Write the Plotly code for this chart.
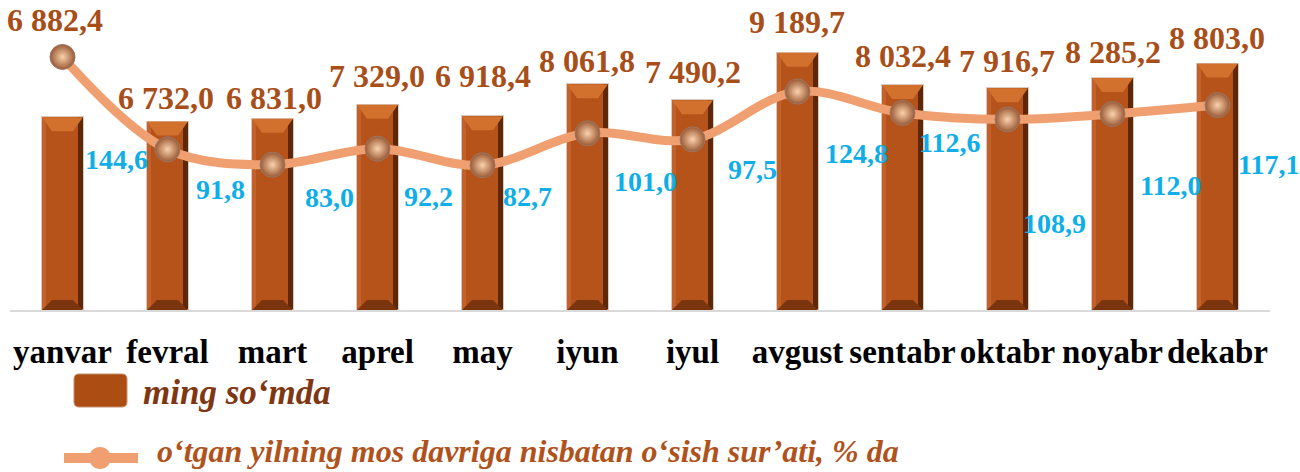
import plotly.graph_objects as go

months = ["yanvar", "fevral", "mart", "aprel", "may", "iyun", "iyul",
          "avgust", "sentabr", "oktabr", "noyabr", "dekabr"]
income = [6882.4, 6732.0, 6831.0, 7329.0, 6918.4, 8061.8, 7490.2,
          9189.7, 8032.4, 7916.7, 8285.2, 8803.0]
growth = [144.6, 91.8, 83.0, 92.2, 82.7, 101.0, 97.5,
          124.8, 112.6, 108.9, 112.0, 117.1]

bar_name = "ming so‘mda"
line_name = "o‘tgan yilning mos davriga nisbatan o‘sish sur’ati, % da"

# label placement offsets (pixels) - style only
bar_lbl_up = [97, 24, 21, 29, 40, 23, 28, 31, 29, 27, 26, 26]
bar_lbl_dx = [-8, -2, 1, -1, 0, -1, 0, -1, 0, -1, 0, -1]
pct_lbl_dx = [54, 53, 57, 51, 45, 58, 60, 59, 47, 47, 58, 51]
pct_lbl_dy = [103, 40, 33, 48, 31, 48, 30, 62, 30, 104, 71, 59]

FONT = "Liberation Serif, Times New Roman, serif"
BROWN = "#B5531A"
LBL_BROWN = "#A84E18"
BLUE = "#10AEE8"
SALMON = "#F0A070"

W, H = 1300, 472
ML, MR, MT, MB = 10, 30, 30, 162
PW, PH = W - ML - MR, H - MT - MB
Y1MAX, Y2MAX = 10000, 160

xs = list(range(len(months)))


def fmt(v):
    return f"{v:,.1f}".replace(",", " ").replace(".", ",")


def px_x(p):
    return (p - ML) / PW


def px_y(p):
    return (H - MB - p) / PH


def round_rect_path(x0, y0, x1, y1, r):
    pts = [
        ("M", x0 + r, y0), ("L", x1 - r, y0), ("Q", x1, y0, x1, y0 + r),
        ("L", x1, y1 - r), ("Q", x1, y1, x1 - r, y1), ("L", x0 + r, y1),
        ("Q", x0, y1, x0, y1 - r), ("L", x0, y0 + r), ("Q", x0, y0, x0 + r, y0),
    ]
    out = []
    for p in pts:
        cmd, coords = p[0], p[1:]
        conv = []
        for k in range(0, len(coords), 2):
            conv.append(f"{px_x(coords[k]):.5f},{px_y(coords[k + 1]):.5f}")
        out.append(cmd + " ".join(conv))
    return " ".join(out) + " Z"


fig = go.Figure()

# dark base of bar (right shading)
fig.add_trace(go.Bar(x=xs, y=income, width=0.40, offset=-0.20,
                     marker=dict(color="#5E2708", line=dict(color="#D9C9C0", width=1)),
                     showlegend=False, hoverinfo="skip"))
# main body
fig.add_trace(go.Bar(x=xs, y=income, width=0.34, offset=-0.195,
                     marker=dict(color=BROWN, line=dict(width=0)),
                     showlegend=False, name=bar_name))
# left light strip
fig.add_trace(go.Bar(x=xs, y=income, width=0.04, offset=-0.195,
                     marker=dict(color="#C2622A", line=dict(width=0)),
                     showlegend=False, hoverinfo="skip"))

# bevel polygons computed from the data
d_top = 14 * Y1MAX / PH
d_bot = 10 * Y1MAX / PH
tx, ty, bx, by = [], [], [], []
for i, v in zip(xs, income):
    tx += [i - 0.195, i + 0.195, i + 0.10, i - 0.10, i - 0.195, None]
    ty += [v, v, v - d_top, v - d_top, v, None]
    bx += [i - 0.195, i + 0.195, i + 0.10, i - 0.10, i - 0.195, None]
    by += [0, 0, d_bot, d_bot, 0, None]
fig.add_trace(go.Scatter(x=tx, y=ty, mode="lines", fill="toself",
                         fillcolor="#D2702E", line=dict(width=0),
                         showlegend=False, hoverinfo="skip"))
fig.add_trace(go.Scatter(x=bx, y=by, mode="lines", fill="toself",
                         fillcolor="#7A340E", line=dict(width=0),
                         showlegend=False, hoverinfo="skip"))

# growth line
fig.add_trace(go.Scatter(x=xs, y=growth, yaxis="y2", mode="lines+markers",
                         name=line_name, showlegend=False,
                         line=dict(color=SALMON, width=9, shape="spline", smoothing=1.0),
                         marker=dict(size=25, color="#9A5A35",
                                     gradient=dict(type="radial", color="#FAD2AC"),
                                     line=dict(color="#9A7868", width=1))))

annotations = []
for i, v, up, dx in zip(xs, income, bar_lbl_up, bar_lbl_dx):
    annotations.append(dict(x=i, y=v, xref="x", yref="y", text=fmt(v),
                            showarrow=False, yanchor="middle", xanchor="center",
                            yshift=up, xshift=dx,
                            font=dict(family=FONT, size=32, color=LBL_BROWN, weight="bold")))
for i, g, dx, dy in zip(xs, growth, pct_lbl_dx, pct_lbl_dy):
    annotations.append(dict(x=i, y=g, xref="x", yref="y2", text=fmt(g),
                            showarrow=False, yanchor="middle", xanchor="center",
                            yshift=-dy, xshift=dx,
                            font=dict(family=FONT, size=28, color=BLUE, weight="bold")))

# custom legend
annotations.append(dict(x=px_x(141), y=px_y(392), xref="paper", yref="paper",
                        text=f"<b><i>{bar_name}</i></b>", showarrow=False,
                        xanchor="left", yanchor="middle",
                        font=dict(family=FONT, size=35, color="#7E3712")))
annotations.append(dict(x=px_x(156), y=px_y(451), xref="paper", yref="paper",
                        text=f"<b><i>{line_name}</i></b>", showarrow=False,
                        xanchor="left", yanchor="middle", borderpad=0,
                        font=dict(family=FONT, size=32, color="#B0521C")))

shapes = [
    dict(type="path", xref="paper", yref="paper",
         path=round_rect_path(74, 374, 127, 407, 5),
         fillcolor="#AC4D14", line=dict(color="#C9906A", width=1)),
    dict(type="line", xref="paper", yref="paper",
         x0=px_x(64), x1=px_x(138), y0=px_y(458), y1=px_y(458),
         line=dict(color=SALMON, width=10)),
    dict(type="circle", xref="paper", yref="paper",
         x0=px_x(89), x1=px_x(111), y0=px_y(469), y1=px_y(447),
         fillcolor=SALMON, line=dict(color=SALMON, width=0)),
]

fig.update_layout(
    width=W, height=H,
    margin=dict(l=ML, r=MR, t=MT, b=MB),
    paper_bgcolor="white", plot_bgcolor="white",
    barmode="overlay", bargap=0,
    xaxis=dict(tickmode="array", tickvals=xs, ticktext=months,
               range=[-0.5, len(months) - 0.5],
               showgrid=False, zeroline=False,
               showline=True, linecolor="#D9D9D9", linewidth=2,
               ticks="", ticklabelstandoff=11,
               tickfont=dict(family=FONT, size=33, color="black", weight="bold")),
    yaxis=dict(range=[0, Y1MAX], visible=False, showgrid=False, zeroline=False),
    yaxis2=dict(range=[0, Y2MAX], overlaying="y", side="right", visible=False,
                showgrid=False, zeroline=False),
    showlegend=False,
    annotations=annotations,
    shapes=shapes,
)

fig.write_html("out.html", config={"displayModeBar": False},
               post_script="document.body.style.margin='0';document.body.style.overflow='hidden';")
